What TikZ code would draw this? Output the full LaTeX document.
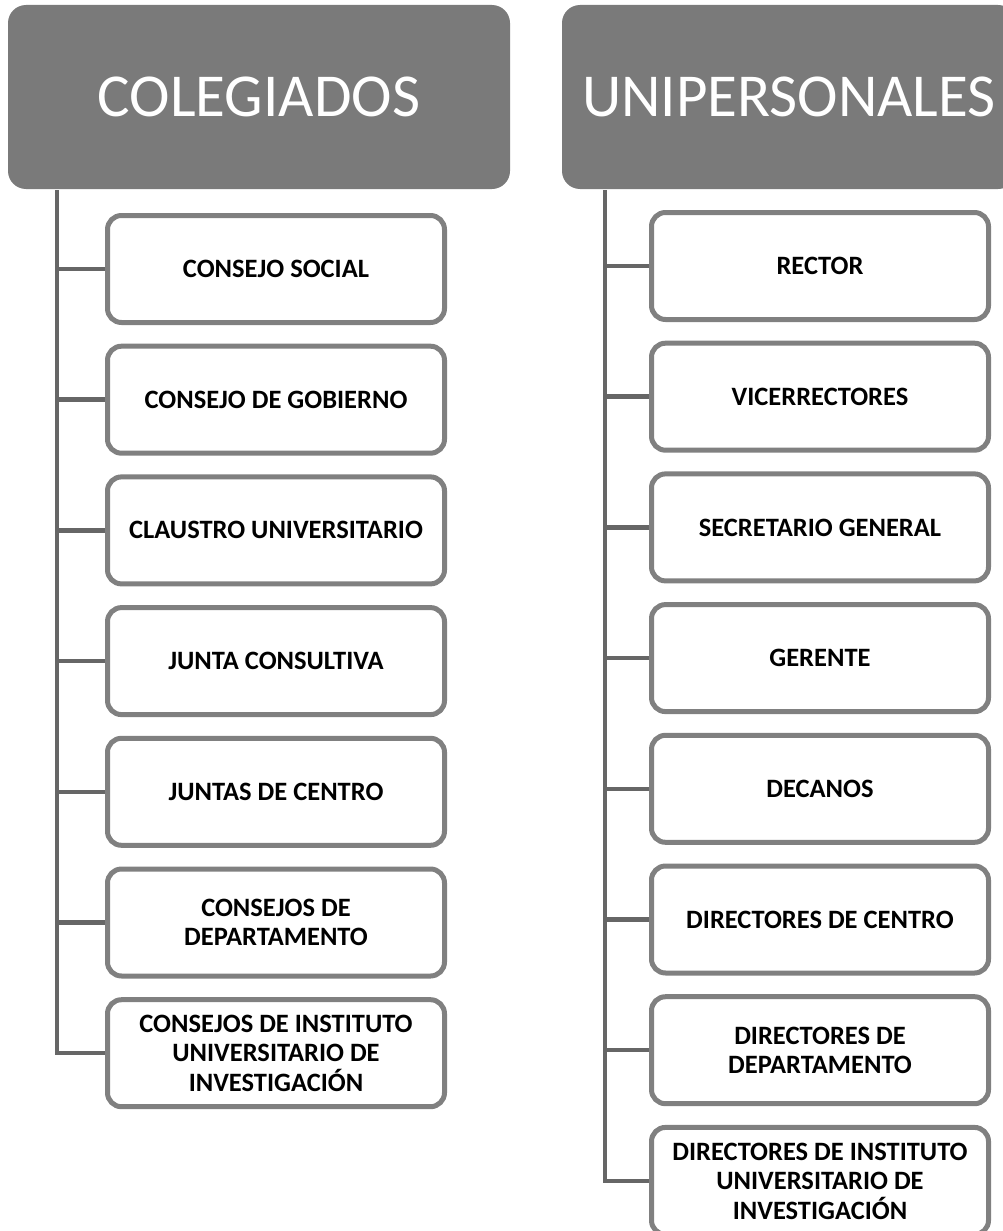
\documentclass[tikz,border=0pt]{standalone}
\usepackage{fontspec}
\setmainfont{Carlito}
\definecolor{headgray}{HTML}{7A7A7A}
\definecolor{boxgray}{HTML}{808080}
\definecolor{linegray}{HTML}{666666}
\begin{document}
\begin{tikzpicture}[x=1pt,y=-1pt,
  headbox/.style={fill=headgray, rounded corners=18pt, text=white, inner sep=0pt,
    font=\fontsize{61}{63}\selectfont, minimum height=184pt},
  itembox/.style={draw=boxgray, line width=5pt, fill=white, rounded corners=14pt,
    minimum width=337pt, minimum height=107pt, align=center, inner sep=0pt,
    font=\bfseries\fontsize{26.5}{29.5}\selectfont},
  conn/.style={draw=linegray, line width=4.5pt}]
\useasboundingbox (0,0) rectangle (1003,1231);
\clip (0,0) rectangle (1003,1231);
\node[headbox, minimum width=502pt] (hl) at (259,97) {COLEGIADOS};
\node[headbox, minimum width=454pt] (hr) at (789,97) {UNIPERSONALES};
\coordinate (lt) at (57,190);
\coordinate (rt) at (605,190);
\foreach \t [count=\i] in {CONSEJO SOCIAL, CONSEJO DE GOBIERNO, CLAUSTRO UNIVERSITARIO,
  JUNTA CONSULTIVA, JUNTAS DE CENTRO, {CONSEJOS DE\\DEPARTAMENTO},
  {CONSEJOS DE INSTITUTO\\UNIVERSITARIO DE\\INVESTIGACIÓN}}{
  \node[itembox] (L\i) at (276,{269+(\i-1)*130.7}) {\t};
  \draw[conn] (L\i.west) -- (lt |- L\i.west);
}
\foreach \t [count=\i] in {RECTOR, VICERRECTORES, SECRETARIO GENERAL, GERENTE, DECANOS,
  DIRECTORES DE CENTRO, {DIRECTORES DE\\DEPARTAMENTO},
  {DIRECTORES DE INSTITUTO\\UNIVERSITARIO DE\\INVESTIGACIÓN}}{
  \node[itembox] (R\i) at (820,{266+(\i-1)*130.7}) {\t};
  \draw[conn] (R\i.west) -- (rt |- R\i.west);
}
\draw[conn] (lt) |- (L7.west);
\draw[conn] (rt) |- (R8.west);
\end{tikzpicture}
\end{document}
